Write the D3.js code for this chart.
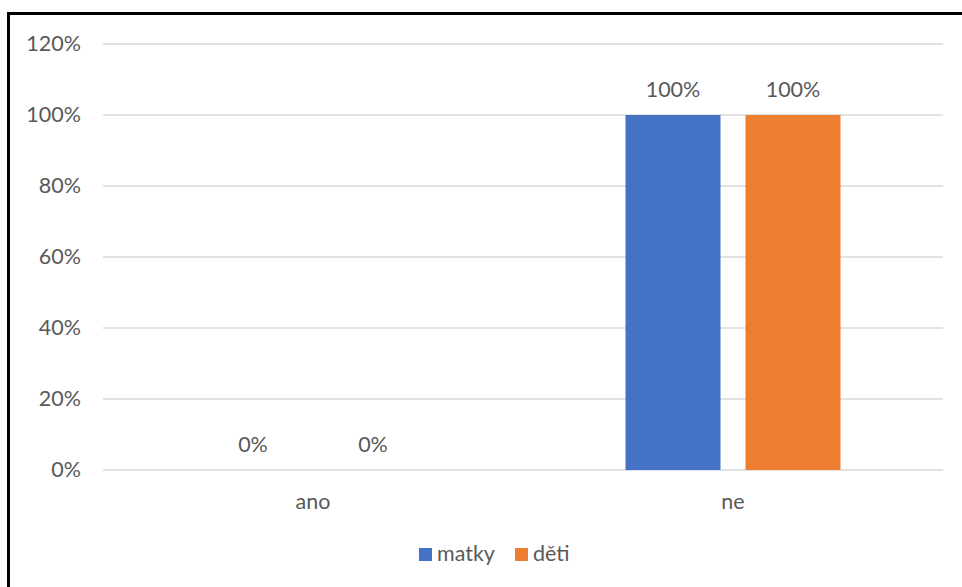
<!DOCTYPE html>
<html>
<head>
<meta charset="utf-8">
<script src="https://cdn.jsdelivr.net/npm/d3@7/dist/d3.min.js"></script>
<style>
  html, body { margin: 0; padding: 0; background: #fff; }
  svg { display: block; }
  text { font-family: Lato, "Open Sans", sans-serif; fill: #595959; }
</style>
</head>
<body>
<svg id="chart" width="962" height="587"></svg>
<script>
const categories = ["ano", "ne"];
const seriesNames = ["matky", "děti"];
const matky = [0, 1];
const deti = [0, 1];
const yTicks = [0, 0.2, 0.4, 0.6, 0.8, 1.0, 1.2];
const colors = ["#4472c4", "#ed7d31"];

(function () {
const series = [matky, deti];
const svg = d3.select("#chart");
const W = 962, H = 587;
const FS = "21.5px";

// frame
svg.append("rect").attr("x", 8.5).attr("y", 13.5).attr("width", W + 10).attr("height", H + 10)
  .attr("fill", "#fff").attr("stroke", "#000").attr("stroke-width", 3);

const pl = 103, pr = 943, pt = 44, pb = 470;
const x = d3.scaleBand().domain(categories).range([pl, pr]);
const y = d3.scaleLinear().domain([0, 1.2]).range([pb, pt]);
const barW = 95, gap = 25;

// gridlines
svg.append("g").selectAll("line").data(yTicks).join("line")
  .attr("x1", pl).attr("x2", pr)
  .attr("y1", d => y(d)).attr("y2", d => y(d))
  .attr("stroke", "#d9d9d9").attr("stroke-width", 1.5);

// y axis labels
const yAxis = d3.axisLeft(y).tickValues(yTicks).tickFormat(d3.format(".0%")).tickSize(0).tickPadding(22);
const yg = svg.append("g").attr("transform", `translate(${pl},0)`).call(yAxis);
yg.select(".domain").remove();
yg.selectAll("text").style("font-size", FS).attr("fill", "#595959").style("font-family", "Lato, 'Open Sans', sans-serif");

// x axis labels
const xAxis = d3.axisBottom(x).tickSize(0).tickPadding(24);
const xg = svg.append("g").attr("transform", `translate(0,${pb})`).call(xAxis);
xg.select(".domain").remove();
xg.selectAll("text").style("font-size", FS).attr("fill", "#595959").style("font-family", "Lato, 'Open Sans', sans-serif");

// bars
const offsets = [-(gap / 2 + barW), gap / 2];
series.forEach((vals, si) => {
  const g = svg.append("g");
  g.selectAll("rect").data(vals).join("rect")
    .attr("x", (d, i) => x(categories[i]) + x.bandwidth() / 2 + offsets[si])
    .attr("width", barW)
    .attr("y", d => y(d))
    .attr("height", d => pb - y(d))
    .attr("fill", colors[si]);
  g.selectAll("text").data(vals).join("text")
    .attr("x", (d, i) => x(categories[i]) + x.bandwidth() / 2 + offsets[si] + barW / 2)
    .attr("y", d => y(d) - 18)
    .attr("text-anchor", "middle")
    .style("font-size", FS)
    .text(d => d3.format(".0%")(d));
});

// legend
const legend = svg.append("g");
const legendX = [419, 515];
seriesNames.forEach((name, i) => {
  legend.append("rect").attr("x", legendX[i]).attr("y", 548).attr("width", 13).attr("height", 13).attr("fill", colors[i]);
  legend.append("text").attr("x", legendX[i] + 18).attr("y", 561).style("font-size", FS).text(name);
});
})();
</script>
</body>
</html>
